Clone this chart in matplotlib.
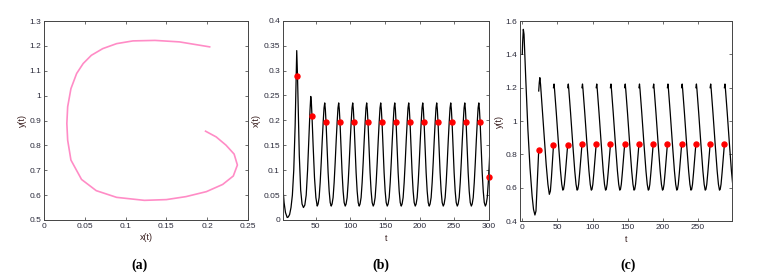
import numpy as np
import matplotlib
matplotlib.use("Agg")
import matplotlib.pyplot as plt

# ---------------- data ----------------
# (a) phase trajectory x(t) vs y(t)
phase_x = [0.203, 0.166, 0.136, 0.109, 0.089, 0.072, 0.058, 0.048, 0.040, 0.033,
           0.029, 0.028, 0.029, 0.033, 0.046, 0.064, 0.089, 0.123, 0.150, 0.174,
           0.199, 0.219, 0.232, 0.237, 0.233, 0.223, 0.211, 0.198]
phase_y = [1.196, 1.216, 1.222, 1.220, 1.209, 1.189, 1.162, 1.129, 1.089, 1.028,
           0.955, 0.888, 0.821, 0.741, 0.663, 0.618, 0.591, 0.579, 0.582, 0.594,
           0.614, 0.643, 0.677, 0.721, 0.765, 0.801, 0.834, 0.857]

# impulse / marker times (shared by (b) and (c))
pulse_t = [23.4, 44.4, 64.7, 84.9, 105.2, 125.4, 145.7, 166.0, 186.2, 206.5,
           226.7, 247.0, 267.3, 287.6]

# (b) x(t): transient part
xb_trans_t = [2, 4, 6, 8.5, 10, 12, 14, 16, 18, 20, 21.3, 22.3, 23.4, 24.5, 26, 28,
              30, 32, 34, 36, 38, 40, 41.5, 42.6, 43.5, 44.4, 46, 48, 50, 51.9]
xb_trans_v = [0.07, 0.035, 0.015, 0.005, 0.006, 0.011, 0.025, 0.05, 0.1, 0.19, 0.28,
              0.34, 0.29, 0.22, 0.13, 0.06, 0.032, 0.025, 0.03, 0.05, 0.1, 0.17,
              0.22, 0.248, 0.235, 0.208, 0.15, 0.085, 0.045, 0.028]
# (b) one steady cycle, offsets relative to a pulse time
xb_cyc_dt = [-12.76, -11.5, -10, -8.5, -7, -5.5, -4, -2.9, -1.9, -1.0, 0, 1.5, 3,
             4.5, 6, 7.5]
xb_cyc_v = [0.028, 0.032, 0.045, 0.075, 0.115, 0.16, 0.20, 0.225, 0.235, 0.222,
            0.196, 0.145, 0.095, 0.058, 0.035, 0.028]
xb_cycle_pulses = pulse_t[2:] + [307.9]
# (b) red markers
xb_dot_t = pulse_t + [300]
xb_dot_v = [0.29, 0.208, 0.197] + [0.196] * 11 + [0.087]

# (c) y(t): transient parts
yc_trans1_t = [0, 0.5, 1.5, 2.5, 5, 8, 11, 14, 16, 18, 19.5, 21, 22.3, 23.4]
yc_trans1_v = [1.40, 1.47, 1.55, 1.52, 1.25, 0.95, 0.72, 0.55, 0.47, 0.436, 0.46,
               0.60, 0.72, 0.824]
yc_trans2_t = [23.4, 24.2, 25.0, 26.0, 28, 31, 34, 36.5, 38.5, 40, 41.5, 43, 44.4]
yc_trans2_v = [1.18, 1.23, 1.26, 1.22, 1.10, 0.92, 0.74, 0.62, 0.56, 0.58, 0.66,
               0.76, 0.854]
# (c) one steady cycle, offsets after a pulse
yc_cyc_dt = [0, 0.8, 1.5, 4, 7, 10, 11.8, 13.3, 14.3, 15.5, 17, 18.5, 20.26]
yc_cyc_v = [1.20, 1.222, 1.19, 1.05, 0.87, 0.70, 0.62, 0.585, 0.59, 0.62, 0.69,
            0.77, 0.86]
yc_cycle_pulses = pulse_t[1:]
# (c) red markers
yc_dot_t = pulse_t
yc_dot_v = [0.824, 0.854, 0.858] + [0.86] * 11

# ---------------- build series ----------------
tb = list(xb_trans_t)
vb = list(xb_trans_v)
for tk in xb_cycle_pulses:
    tb += [tk + d for d in xb_cyc_dt]
    vb += xb_cyc_v

tc = list(yc_trans1_t) + [np.nan] + list(yc_trans2_t)
vc = list(yc_trans1_v) + [np.nan] + list(yc_trans2_v)
for tk in yc_cycle_pulses:
    tc += [np.nan] + [tk + d for d in yc_cyc_dt]
    vc += [np.nan] + yc_cyc_v

# ---------------- figure ----------------
plt.rcParams['font.family'] = ['Liberation Sans Narrow', 'Liberation Sans', 'DejaVu Sans']
fig = plt.figure(figsize=(7.65, 2.73), dpi=100)

tick_col = '#2a2a3a'
def style(ax):
    ax.tick_params(direction='in', top=True, right=True, length=2.5, width=0.6,
                   labelsize=6, colors='#555555', labelcolor=tick_col, pad=2)
    for s in ax.spines.values():
        s.set_linewidth(0.7)
        s.set_color('#444444')

def fmt(v):
    s = ('%.2f' % v).rstrip('0').rstrip('.')
    return s

# (a)
axa = fig.add_axes([44/765, 53/273, 204/765, 199/273])
axa.plot(phase_x, phase_y, color='#ff8cc6', lw=1.2)
axa.set_xlim(0, 0.25)
axa.set_ylim(0.5, 1.3)
xt = [0, 0.05, 0.1, 0.15, 0.2, 0.25]
yt = [0.5, 0.6, 0.7, 0.8, 0.9, 1.0, 1.1, 1.2, 1.3]
axa.set_xticks(xt, [fmt(v) for v in xt])
axa.set_yticks(yt, [fmt(v) for v in yt])
axa.set_xlabel('x(t)', fontsize=6.5, color='#3a2020', labelpad=2)
axa.set_ylabel('y(t)', fontsize=6.5, color='#3a2020', labelpad=2)
style(axa)

# (b)
axb = fig.add_axes([282.7/765, 53/273, 206/765, 199.3/273])
axb.plot(tb, vb, color='black', lw=0.9)
axb.plot(xb_dot_t, xb_dot_v, 'o', color='red', ms=3.6, mec='red', clip_on=False)
axb.set_xlim(2, 300)
axb.set_ylim(0, 0.4)
xt = [50, 100, 150, 200, 250, 300]
yt = [0, 0.05, 0.1, 0.15, 0.2, 0.25, 0.3, 0.35, 0.4]
axb.set_xticks(xt, [fmt(v) for v in xt])
axb.set_yticks(yt, [fmt(v) for v in yt])
axb.set_xlabel('t', fontsize=6.5, color='#3a2020', labelpad=3)
axb.set_ylabel('x(t)', fontsize=6.5, color='#3a2020', labelpad=2)
style(axb)

# (c)
axc = fig.add_axes([520.3/765, 52/273, 211.7/765, 200/273])
axc.plot(tc, vc, color='black', lw=0.9)
axc.plot(yc_dot_t, yc_dot_v, 'o', color='red', ms=3.6, mec='red')
axc.set_xlim(-2.8, 298.4)
axc.set_ylim(0.4, 1.6)
xt = [0, 50, 100, 150, 200, 250]
yt = [0.4, 0.6, 0.8, 1.0, 1.2, 1.4, 1.6]
axc.set_xticks(xt, [fmt(v) for v in xt])
axc.set_yticks(yt, [fmt(v) for v in yt])
axc.set_xlabel('t', fontsize=6.5, color='#3a2020', labelpad=3)
axc.set_ylabel('y(t)', fontsize=6.5, color='#3a2020', labelpad=1)
style(axc)

for lab, xc in [('(a)', 140), ('(b)', 381), ('(c)', 628)]:
    fig.text(xc/765, 1 - 265/273, lab, ha='center', va='center', fontsize=10,
             fontweight='bold', family=['Liberation Serif', 'DejaVu Serif'])

fig.savefig('out.png', dpi=100, facecolor='white')
